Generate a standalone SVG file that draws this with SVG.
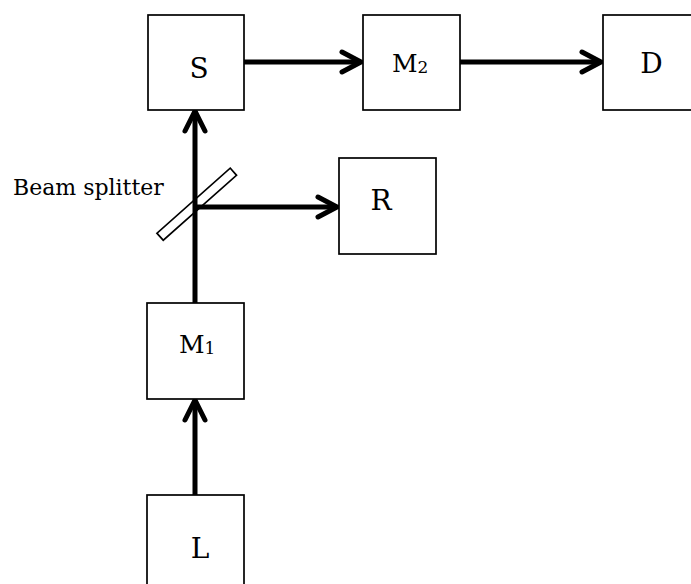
<svg xmlns="http://www.w3.org/2000/svg" width="691" height="584" viewBox="0 0 691 584">
<style>
.box{fill:#fff;stroke:#000;stroke-width:1.7}
.lbl{font-family:"DejaVu Serif","Liberation Serif",serif;fill:#000}
.big{font-size:28px;text-anchor:middle}
.mid{font-size:25px}
.sub{font-size:17px}
.beam{fill:none;stroke:#000;stroke-width:5}
.head{fill:none;stroke:#000;stroke-width:5;stroke-linecap:round;stroke-linejoin:miter}
</style>
<rect width="691" height="584" fill="#fff"/>
<g id="splitter">
<rect class="box" x="147.7" y="199.5" width="98" height="9.5" transform="rotate(-41.6 196.7 204.2)"/>
<text class="lbl" x="13" y="195" font-size="22">Beam splitter</text>
</g>
<g id="connectors">
<path class="beam" d="M195 495V400M195 303V111M244 62H361M460 62H601M195 207H337"/>
<path class="head" d="M185 420L195 400L205 420"/>
<path class="head" d="M185 131L195 111L205 131"/>
<path class="head" d="M342 52L361 62L342 72"/>
<path class="head" d="M582 52L601 62L582 72"/>
<path class="head" d="M318 197L337 207L318 217"/>
</g>
<g id="S">
<rect class="box" x="148" y="15" width="96" height="95"/>
<text class="lbl big" x="199" y="78">S</text>
</g>
<g id="M2">
<rect class="box" x="363" y="15" width="97" height="95"/>
<text class="lbl mid" x="392" y="72">M<tspan class="sub" dy="1">2</tspan></text>
</g>
<g id="D">
<rect class="box" x="603" y="15" width="96" height="95"/>
<text class="lbl big" x="651.5" y="73">D</text>
</g>
<g id="R">
<rect class="box" x="339" y="158" width="97" height="96"/>
<text class="lbl big" x="381" y="210">R</text>
</g>
<g id="M1">
<rect class="box" x="147" y="303" width="97" height="96"/>
<text class="lbl mid" x="179" y="353">M<tspan class="sub" dy="1">1</tspan></text>
</g>
<g id="L">
<rect class="box" x="147" y="495" width="97" height="96"/>
<text class="lbl big" x="200" y="558">L</text>
</g>
</svg>
